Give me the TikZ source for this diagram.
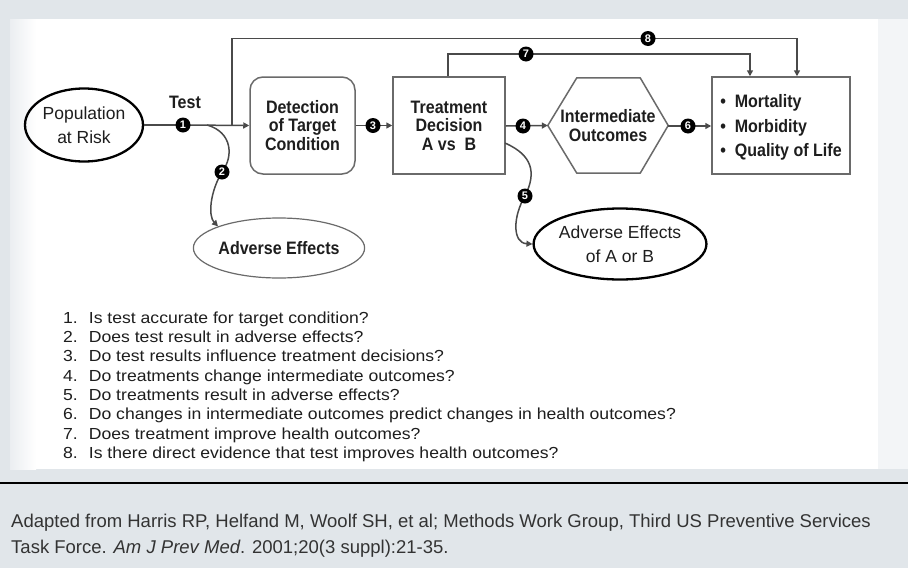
\documentclass[tikz,border=0pt]{standalone}
\usepackage{fontspec}
\setmainfont{Liberation Sans}
\newfontfamily\capfont{Liberation Sans}
\newfontfamily\boxfont[FakeStretch=0.89]{Liberation Sans}
\newfontfamily\qfont[FakeStretch=1.1]{Liberation Sans}
\usetikzlibrary{shapes.geometric,arrows.meta,calc}
\definecolor{bggray}{HTML}{E1E6EA}
\definecolor{stripgray}{HTML}{EBEEF1}
\definecolor{linegray}{HTML}{4A4A4A}
\definecolor{boxgray}{HTML}{6A6A6A}
\definecolor{txt}{HTML}{1E1E1E}
\definecolor{captxt}{HTML}{333333}
\tikzset{
  conn/.style={draw=linegray, line width=1.5pt},
  arr/.style={conn, -{Triangle[width=6pt,length=6pt]}},
  boxtxt/.style={font=\boxfont\fontsize{18}{18.5}\selectfont\bfseries, text=txt, align=center},
  stepbox/.style={draw=boxgray, line width=1.5pt, minimum height=97pt, inner sep=0pt},
  bigell/.style={ellipse, draw=black, line width=2.3pt, inner sep=0pt, font=\fontsize{17.5}{24.5}\selectfont, text=txt, align=center},
  numdot/.style={circle, fill=black, minimum size=15pt, inner sep=0pt, text=white, font=\fontsize{11}{11}\selectfont\bfseries},
}
\begin{document}
\begin{tikzpicture}[x=1pt,y=-1pt]
\useasboundingbox (0,0) rectangle (908,568);
% background
\fill[bggray] (0,0) rectangle (908,568);
\fill[white] (10,19) rectangle (878,469);
\shade[left color=stripgray, right color=white] (10,19) rectangle (36,469);
\fill[stripgray!60!white] (878,19) rectangle (908,469);
\draw[black, line width=1.2pt] (0,483) -- (908,483);

% nodes
\node[bigell, minimum width=118pt, minimum height=73pt] (pop) at (84,125) {Population\\at Risk};
\node[stepbox, boxtxt, rounded corners=13pt, minimum width=105pt] (det) at (302.5,125.5) {Detection\\of Target\\Condition};
\node[stepbox, boxtxt, minimum width=112pt] (treat) at (449,125.5) {Treatment\\Decision\\A vs\ \ B};
\node[boxtxt, minimum width=120pt, minimum height=95pt, inner sep=0pt] (inter) at (608,125.5) {Intermediate\\Outcomes};
\draw[draw=boxgray, line width=1.5pt, line join=round] (inter.west) -- ([xshift=29pt]inter.north west) -- ([xshift=-28pt]inter.north east) -- (inter.east) -- ([xshift=-28pt]inter.south east) -- ([xshift=29pt]inter.south west) -- cycle;
\node[stepbox, minimum width=138pt] (out) at (781,125.5) {};
\node[boxtxt, align=left, font=\boxfont\fontsize{18}{24.5}\selectfont\bfseries, inner sep=0pt] (outtxt) at ([yshift=-2pt]out.center) {\textbullet\ \ Mortality\\\textbullet\ \ Morbidity\\\textbullet\ \ Quality of Life};
\node[ellipse, draw=boxgray, line width=1.2pt, inner sep=0pt, minimum width=135pt, minimum height=60pt, font=\boxfont\fontsize{18}{18}\selectfont\bfseries, text=txt] (adv1) at (279,248) {Adverse Effects};
\node[bigell, minimum width=162pt, minimum height=71pt] (adv2) at (620,244) {Adverse Effects\\of A or B};
\node[boxtxt, anchor=base] (test) at (185,108) {Test};

% numbered dots (positions)
\coordinate (d1) at (183,125);
\coordinate (d2) at (222,172);
\coordinate (d3) at (373,125.5);
\coordinate (d4) at (523,126);
\coordinate (d5) at (525,196);
\coordinate (d6) at (688,126);
\coordinate (d7) at (526,54);
\coordinate (d8) at (648,38.5);

% coordinates
\coordinate (j8) at (232,125);
\coordinate (c2) at (207,125);
\coordinate (c5) at (505,143);

% connectors
\draw[conn] (pop.east) -- (d1);
\draw[arr] (d1) -- (det.west);
\draw[conn] (j8) |- (d8);
\draw[arr] (d8) -| ([xshift=16pt]out.north);
\draw[conn] ([xshift=-1pt]treat.north) |- (d7);
\draw[arr] (d7) -| ([xshift=-31pt]out.north);
\draw[arr] (det.east) -- (treat.west);
\draw[arr] (treat.east |- d4) -- (inter.west);
\draw[arr] (inter.east |- d6) -- (out.west |- d6);
\draw[conn] (c2) .. controls (232,132) and (234,156) .. (d2);
\draw[arr] (d2) .. controls (210,192) and (208,216) .. (adv1.north west);
\draw[conn] (c5) .. controls (532,155) and (537,172) .. (d5);
\draw[arr] (d5) .. controls (513,216) and (512,243) .. (adv2.west);

% dots on top
\node[numdot] (n1) at (d1) {1};
\node[numdot] (n2) at (d2) {2};
\node[numdot] (n3) at (d3) {3};
\node[numdot] (n4) at (d4) {4};
\node[numdot] (n5) at (d5) {5};
\node[numdot] (n6) at (d6) {6};
\node[numdot] (n7) at (d7) {7};
\node[numdot] (n8) at (d8) {8};

% question list
\node[anchor=north west, inner sep=0pt, text=txt, font=\qfont\fontsize{16}{19.3}\selectfont] (qs) at (63,309.5) {%
\begin{tabular}{@{}l@{\hspace{11pt}}l@{}}
1. & Is test accurate for target condition?\\
2. & Does test result in adverse effects?\\
3. & Do test results influence treatment decisions?\\
4. & Do treatments change intermediate outcomes?\\
5. & Do treatments result in adverse effects?\\
6. & Do changes in intermediate outcomes predict changes in health outcomes?\\
7. & Does treatment improve health outcomes?\\
8. & Is there direct evidence that test improves health outcomes?
\end{tabular}};

% caption
\node[anchor=base west, inner sep=0pt, text=captxt, font=\capfont\fontsize{18.5}{25.5}\selectfont, align=left] (cap) at (11,553) {Adapted from Harris RP, Helfand M, Woolf SH, et al; Methods Work Group, Third US Preventive Services\\Task Force. \textit{Am J Prev Med}. 2001;20(3 suppl):21-35.};
\end{tikzpicture}
\end{document}
